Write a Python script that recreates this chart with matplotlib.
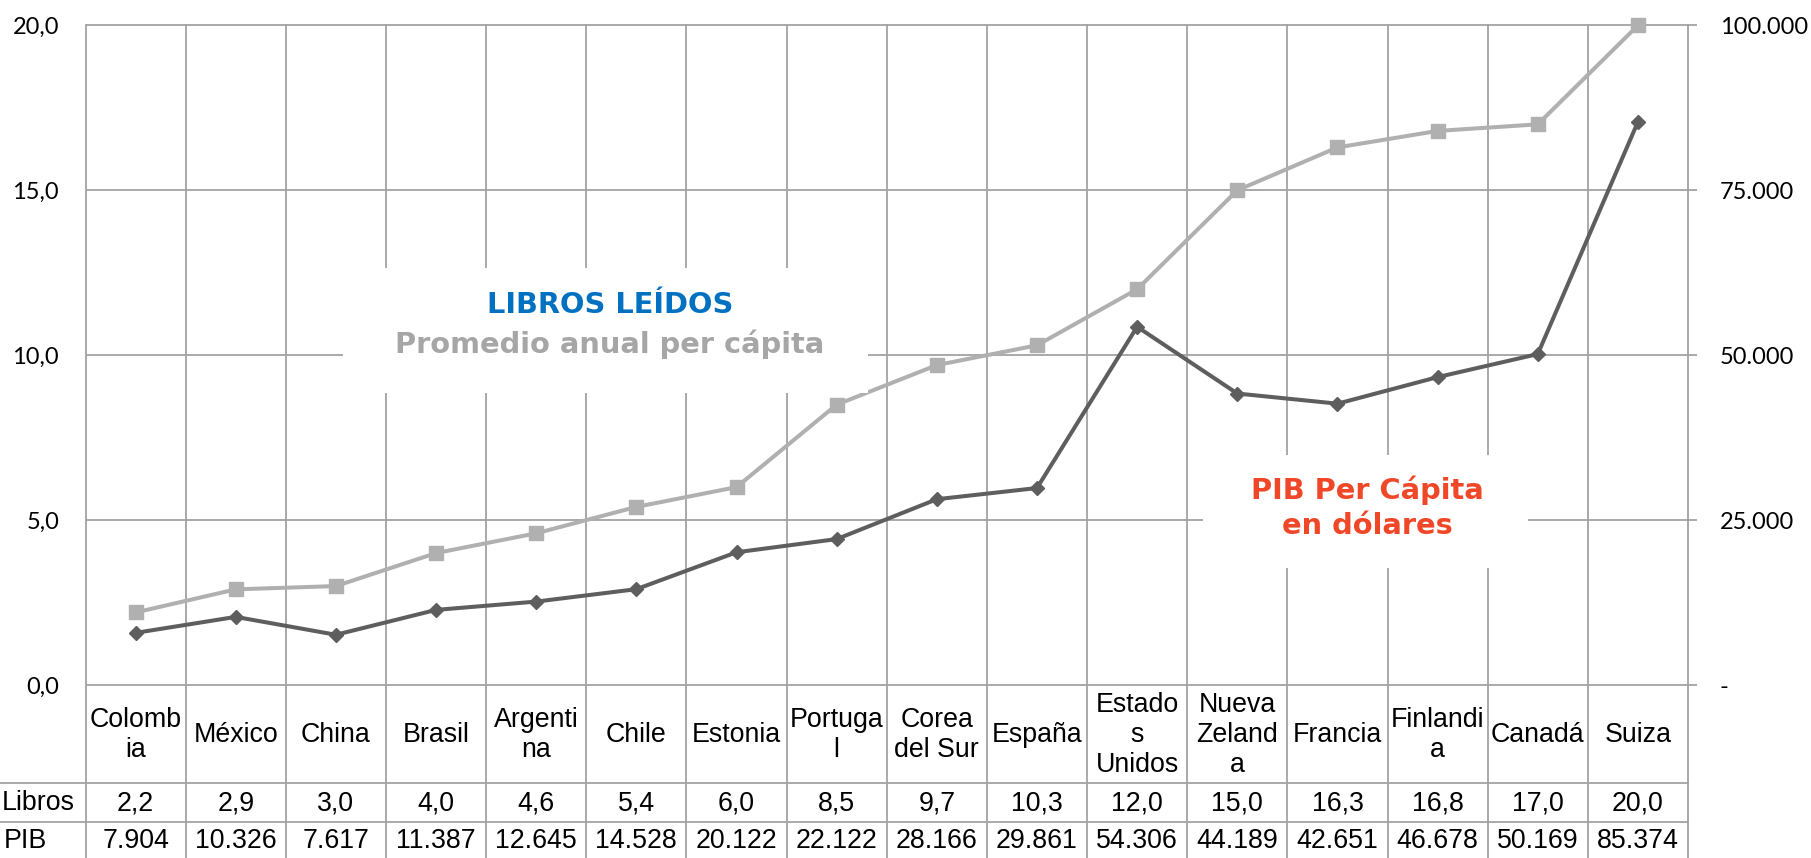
import matplotlib
matplotlib.use("Agg")
import matplotlib.pyplot as plt
from matplotlib.ticker import FuncFormatter, MultipleLocator
from matplotlib.transforms import blended_transform_factory
from matplotlib.patches import Rectangle

# ---------------- data ----------------
countries = ["Colomb\nia", "México", "China", "Brasil", "Argenti\nna", "Chile",
             "Estonia", "Portuga\nl", "Corea\ndel Sur", "España", "Estado\ns\nUnidos",
             "Nueva\nZeland\na", "Francia", "Finlandi\na", "Canadá", "Suiza"]
libros = [2.2, 2.9, 3.0, 4.0, 4.6, 5.4, 6.0, 8.5, 9.7, 10.3, 12.0, 15.0, 16.3, 16.8, 17.0, 20.0]
pib = [7904, 10326, 7617, 11387, 12645, 14528, 20122, 22122, 28166, 29861,
       54306, 44189, 42651, 46678, 50169, 85374]
row_labels = ["Libros", "PIB"]
title_1 = "LIBROS LEÍDOS"
title_2 = "Promedio anual per cápita"
pib_title = "PIB Per Cápita\nen dólares"

# ---------------- styles ----------------
W, H = 1811, 858
GRID = "#A3A3A3"
C_LIB = "#B0B0B0"
C_PIB = "#5E5E5E"
C_BLUE = "#0070C0"
C_GRAYT = "#A6A6A6"
C_RED = "#EF4727"
TABLE_FONT = "Liberation Sans"
AXIS_FONT = "Lato"

def fx(px):
    return px / W

def fy(py):
    return 1 - py / H

fig = plt.figure(figsize=(W / 100, H / 100), dpi=100)
left, right, top, bottom = 85.5, 1688, 25.4, 685
ax = fig.add_axes([fx(left), fy(bottom), fx(right) - fx(left), fy(top) - fy(bottom)])
ax2 = ax.twinx()

n = len(countries)
x = list(range(n))
ax.set_xlim(-0.5, n - 0.5)
ax.set_ylim(0, 20)
ax2.set_ylim(0, 100000)

for a in (ax, ax2):
    for s in a.spines.values():
        s.set_visible(False)
    a.set_xticks([])

# grid
ax.yaxis.set_major_locator(MultipleLocator(5))
ax2.yaxis.set_major_locator(MultipleLocator(25000))
for v in range(0, 21, 5):
    ax.hlines(v, -0.5, n - 0.5 + 0.09, color=GRID, lw=1.3, clip_on=False, zorder=1)

bt = blended_transform_factory(ax.transData, fig.transFigure)
for i in range(n + 1):
    ax.plot([i - 0.5, i - 0.5], [fy(top), fy(H)], transform=bt, color=GRID, lw=1.3,
            clip_on=False, zorder=1)
# table horizontal lines
for py in (783, 822):
    ax.plot([fx(0), fx(right)], [fy(py), fy(py)], transform=fig.transFigure,
            color=GRID, lw=1.3, clip_on=False, zorder=1)

# tick labels
ax.yaxis.set_major_formatter(FuncFormatter(lambda v, p: f"{v:.1f}".replace(".", ",")))
def fmt_pib(v, p):
    if v == 0:
        return "-"
    return f"{int(v):,}".replace(",", ".")
ax2.yaxis.set_major_formatter(FuncFormatter(fmt_pib))
ax.tick_params(axis="y", length=0, pad=19, labelsize=17, labelcolor="black")
ax2.tick_params(axis="y", length=0, pad=23, labelsize=17, labelcolor="black")
for lab in ax.get_yticklabels() + ax2.get_yticklabels():
    lab.set_fontfamily(AXIS_FONT)

# lines
ax.plot(x, libros, color=C_LIB, lw=2.9, marker="s", markersize=10, zorder=3, clip_on=False)
ax2.plot(x, pib, color=C_PIB, lw=2.9, marker="D", markersize=7.5, zorder=3, clip_on=False)

# title boxes
ax2.add_patch(Rectangle((fx(343), fy(393)), fx(868) - fx(343), fy(268) - fy(393),
                        transform=fig.transFigure, facecolor="white", edgecolor="none",
                        zorder=6, clip_on=False))
ax2.text(fx(610), fy(305), title_1, transform=fig.transFigure, ha="center", va="center",
         fontsize=20.8, fontweight="bold", color=C_BLUE, family="DejaVu Sans", zorder=7)
ax2.text(fx(610), fy(344), title_2, transform=fig.transFigure, ha="center", va="center",
         fontsize=20.8, fontweight="bold", color=C_GRAYT, family="DejaVu Sans", zorder=7)

ax2.add_patch(Rectangle((fx(1203), fy(568)), fx(1528) - fx(1203), fy(455) - fy(568),
                        transform=fig.transFigure, facecolor="white", edgecolor="none",
                        zorder=6, clip_on=False))
ax2.text(fx(1367), fy(508), pib_title, transform=fig.transFigure, ha="center", va="center",
         fontsize=20.8, fontweight="bold", color=C_RED, family="DejaVu Sans", zorder=7,
         linespacing=1.32)

# table text
for i, name in enumerate(countries):
    ax.text(i, fy(735), name, transform=bt, ha="center", va="center", fontsize=19.3,
            family=TABLE_FONT, linespacing=1.2, clip_on=False)
    ax.text(i, fy(803), f"{libros[i]:.1f}".replace(".", ","), transform=bt, ha="center",
            va="center", fontsize=19.3, family=TABLE_FONT, clip_on=False)
    ax.text(i, fy(841), f"{pib[i]:,}".replace(",", "."), transform=bt, ha="center",
            va="center", fontsize=19.3, family=TABLE_FONT, clip_on=False)

fig.text(fx(2), fy(803), row_labels[0], ha="left", va="center", fontsize=19.3, family=TABLE_FONT)
fig.text(fx(4), fy(841), row_labels[1], ha="left", va="center", fontsize=19.3, family=TABLE_FONT)

fig.savefig("out.png", dpi=100)
